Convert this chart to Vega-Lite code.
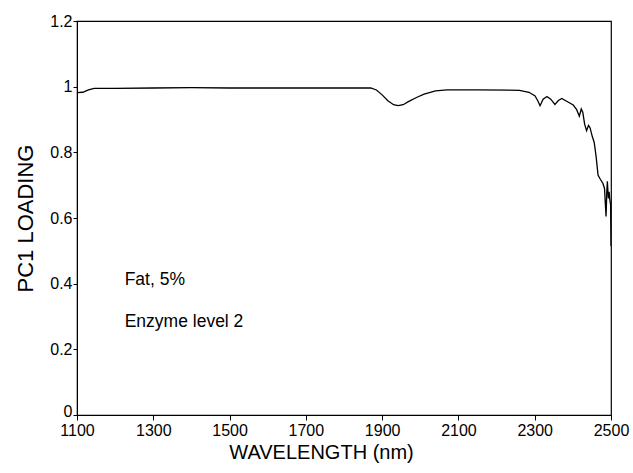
{
  "$schema": "https://vega.github.io/schema/vega-lite/v6.json",
  "autosize": "none",
  "width": 534,
  "height": 394,
  "padding": {"left": 77, "top": 21, "right": 22, "bottom": 58},
  "background": "white",
  "config": {
    "font": "Liberation Sans",
    "view": {"stroke": "black", "strokeWidth": 1.2},
    "axis": {
      "grid": false,
      "domainColor": "black",
      "tickColor": "black",
      "labelColor": "black",
      "titleColor": "black",
      "labelFont": "Liberation Sans",
      "titleFont": "Liberation Sans",
      "labelFontSize": 16,
      "titleFontSize": 20,
      "titleFontWeight": "normal",
      "tickSize": 5,
      "labelFlush": false,
      "labelOverlap": false
    }
  },
  "datasets": {
    "curve": [
      {"wl": 1100, "pc1": 0.982},
      {"wl": 1115, "pc1": 0.983},
      {"wl": 1130, "pc1": 0.99},
      {"wl": 1145, "pc1": 0.995},
      {"wl": 1200, "pc1": 0.995},
      {"wl": 1300, "pc1": 0.996},
      {"wl": 1400, "pc1": 0.997},
      {"wl": 1500, "pc1": 0.996},
      {"wl": 1600, "pc1": 0.996},
      {"wl": 1700, "pc1": 0.996},
      {"wl": 1800, "pc1": 0.996},
      {"wl": 1870, "pc1": 0.996},
      {"wl": 1885, "pc1": 0.99},
      {"wl": 1900, "pc1": 0.975},
      {"wl": 1915, "pc1": 0.957},
      {"wl": 1930, "pc1": 0.945},
      {"wl": 1942, "pc1": 0.942},
      {"wl": 1955, "pc1": 0.945},
      {"wl": 1970, "pc1": 0.955},
      {"wl": 1990, "pc1": 0.967},
      {"wl": 2010, "pc1": 0.977},
      {"wl": 2040, "pc1": 0.987},
      {"wl": 2070, "pc1": 0.99},
      {"wl": 2150, "pc1": 0.99},
      {"wl": 2260, "pc1": 0.989},
      {"wl": 2285, "pc1": 0.983},
      {"wl": 2301, "pc1": 0.972},
      {"wl": 2309, "pc1": 0.955},
      {"wl": 2314, "pc1": 0.942},
      {"wl": 2322, "pc1": 0.962},
      {"wl": 2332, "pc1": 0.97},
      {"wl": 2342, "pc1": 0.962},
      {"wl": 2353, "pc1": 0.946},
      {"wl": 2362, "pc1": 0.958},
      {"wl": 2371, "pc1": 0.964},
      {"wl": 2386, "pc1": 0.954},
      {"wl": 2401, "pc1": 0.944},
      {"wl": 2410, "pc1": 0.93},
      {"wl": 2417, "pc1": 0.91},
      {"wl": 2422, "pc1": 0.932},
      {"wl": 2426, "pc1": 0.922},
      {"wl": 2431, "pc1": 0.885},
      {"wl": 2436, "pc1": 0.866},
      {"wl": 2441, "pc1": 0.882},
      {"wl": 2445, "pc1": 0.875},
      {"wl": 2451, "pc1": 0.848},
      {"wl": 2456, "pc1": 0.83},
      {"wl": 2461, "pc1": 0.787},
      {"wl": 2466, "pc1": 0.731},
      {"wl": 2472, "pc1": 0.718},
      {"wl": 2479, "pc1": 0.705},
      {"wl": 2483, "pc1": 0.69},
      {"wl": 2487, "pc1": 0.605},
      {"wl": 2489, "pc1": 0.68},
      {"wl": 2490.5, "pc1": 0.712},
      {"wl": 2493, "pc1": 0.66},
      {"wl": 2495, "pc1": 0.68},
      {"wl": 2497, "pc1": 0.655},
      {"wl": 2499, "pc1": 0.64},
      {"wl": 2500, "pc1": 0.515}
    ],
    "notes": [
      {"wl": 1225, "pc1": 0.41, "label": "Fat, 5%"},
      {"wl": 1225, "pc1": 0.283, "label": "Enzyme level 2"}
    ]
  },
  "layer": [
    {
      "data": {"name": "curve"},
      "mark": {"type": "line", "color": "black", "strokeWidth": 1.3, "clip": true},
      "encoding": {
        "x": {
          "field": "wl",
          "type": "quantitative",
          "scale": {"domain": [1100, 2500], "nice": false, "zero": false},
          "axis": {
            "title": "WAVELENGTH (nm)",
            "values": [1100, 1150, 1200, 1250, 1300, 1350, 1400, 1450, 1500, 1550, 1600, 1650, 1700, 1750, 1800, 1850, 1900, 1950, 2000, 2050, 2100, 2150, 2200, 2250, 2300, 2350, 2400, 2450, 2500],
            "labelExpr": "(datum.value - 1100) % 200 == 0 ? format(datum.value, 'd') : ''",
            "labelPadding": 2,
            "titlePadding": 4,
            "titleX": 244
          }
        },
        "y": {
          "field": "pc1",
          "type": "quantitative",
          "scale": {"domain": [0, 1.2], "nice": false},
          "axis": {
            "title": "PC1  LOADING",
            "titleFontSize": 22,
            "values": [0, 0.2, 0.4, 0.6, 0.8, 1, 1.2],
            "format": "~g",
            "tickSize": 4,
            "labelPadding": 1,
            "titlePadding": 12,
            "labelOffset": {"condition": {"test": "datum.value == 0", "value": -4}, "value": 0}
          }
        }
      }
    },
    {
      "data": {"name": "notes"},
      "mark": {"type": "text", "align": "left", "baseline": "middle", "fontSize": 17.5, "color": "black", "font": "Liberation Sans"},
      "encoding": {
        "x": {"field": "wl", "type": "quantitative"},
        "y": {"field": "pc1", "type": "quantitative"},
        "text": {"field": "label"}
      }
    }
  ]
}
